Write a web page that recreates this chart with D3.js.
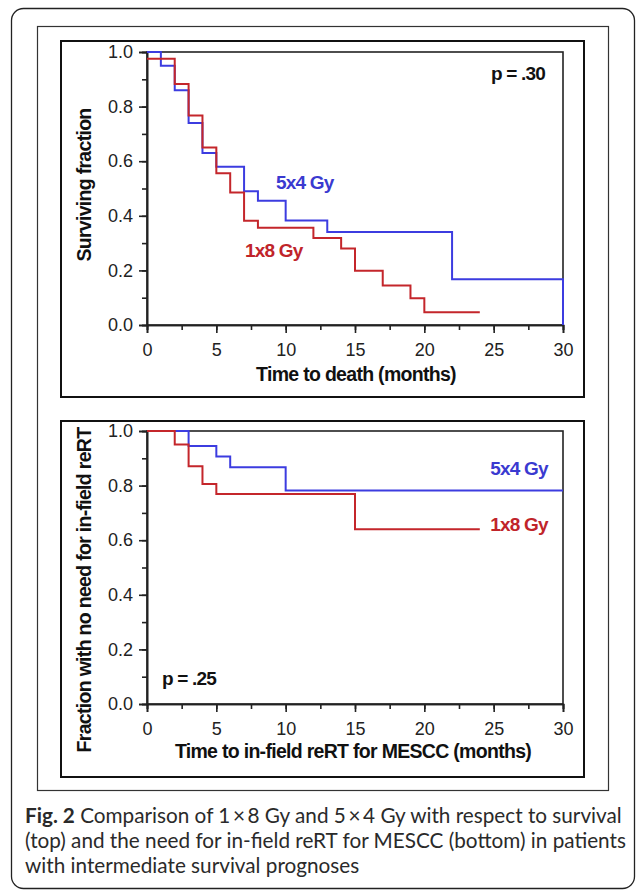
<!DOCTYPE html>
<html>
<head>
<meta charset="utf-8">
<script src="https://cdn.jsdelivr.net/npm/d3@7"></script>
<style>
  body { margin: 0; background: #fff; }
</style>
</head>
<body>
<div id="chart"></div>
<script>
// Datos
const survTime54 = [0, 1, 2, 3, 4, 5, 7, 8, 10, 13, 22, 30];
const survVal54 = [1.0, 0.95, 0.86, 0.74, 0.63, 0.58, 0.49, 0.455, 0.383, 0.341, 0.168, 0.0];
const survTime18 = [0, 2, 3, 4, 5, 6, 7, 8, 12, 14, 15, 17, 19, 20, 24];
const survVal18 = [0.975, 0.883, 0.767, 0.65, 0.556, 0.485, 0.382, 0.356, 0.319, 0.28, 0.199, 0.145, 0.098, 0.047, 0.047];

const reTime54 = [0, 3, 5, 6, 10, 30];
const reVal54 = [1.0, 0.945, 0.907, 0.867, 0.782, 0.782];
const reTime18 = [0, 2, 3, 4, 5, 15, 24];
const reVal18 = [1.0, 0.951, 0.871, 0.806, 0.769, 0.64, 0.64];

const xTicks = [0, 5, 10, 15, 20, 25, 30];
const yTicks = [0, 0.2, 0.4, 0.6, 0.8, 1.0];

const blue = "#3c3ce0";
const red = "#c4262b";
const blueText = "#3a3ad0";
const redText = "#c0242a";
const chartFont = "Liberation Sans, Arial, sans-serif";

const width = 636;
const height = 891;

const svg = d3.select("div#chart").append("svg")
  .attr("width", width)
  .attr("height", height)
  .style("font-family", chartFont);

// Marcos
svg.append("rect")
  .attr("x", 11.5).attr("y", 8.5).attr("width", 623).attr("height", 880)
  .attr("rx", 12).attr("fill", "none").attr("stroke", "#222").attr("stroke-width", 1.3);

svg.append("rect")
  .attr("x", 37.5).attr("y", 26.5).attr("width", 571).attr("height", 764)
  .attr("fill", "none").attr("stroke", "#333").attr("stroke-width", 1.2);

// Paneles
const panels = [
  {
    box: [61, 41, 584, 397], x: [147, 563], y: [325, 52],
    series: [[survTime54, survVal54, blue], [survTime18, survVal18, red]],
    xTitle: "Time to death (months)", xTitleY: 381, xTitleX: 356,
    yTitle: "Surviving fraction", yTitleX: 91, yTitleC: 185,
    labels: [
      { text: "5x4 Gy", t: 9.3, v: 0.498, color: blueText, anchor: "start" },
      { text: "1x8 Gy", t: 7.07, v: 0.249, color: redText, anchor: "start" },
      { text: "p = .30", t: 28.7, v: 0.897, color: "#111", anchor: "end" },
    ],
  },
  {
    box: [61, 421, 584, 777], x: [147, 563], y: [704, 431],
    series: [[reTime54, reVal54, blue], [reTime18, reVal18, red]],
    xTitle: "Time to in-field reRT for MESCC (months)", xTitleY: 758, xTitleX: 353,
    yTitle: "Fraction with no need for in-field reRT", yTitleX: 91, yTitleC: 590,
    labels: [
      { text: "5x4 Gy", t: 28.9, v: 0.839, color: blueText, anchor: "end" },
      { text: "1x8 Gy", t: 28.9, v: 0.634, color: redText, anchor: "end" },
      { text: "p = .25", t: 1.08, v: 0.07, color: "#111", anchor: "start" },
    ],
  },
];

panels.forEach(drawPanel);

function drawPanel(p) {
  const g = svg.append("g");

  g.append("rect")
    .attr("x", p.box[0]).attr("y", p.box[1])
    .attr("width", p.box[2] - p.box[0]).attr("height", p.box[3] - p.box[1])
    .attr("fill", "none").attr("stroke", "#111").attr("stroke-width", 2);

  const x = d3.scaleLinear().domain([0, 30]).range(p.x);
  const y = d3.scaleLinear().domain([0, 1]).range(p.y);

  // marco del área de datos
  g.append("rect")
    .attr("x", x(0)).attr("y", y(1))
    .attr("width", x(30) - x(0)).attr("height", y(0) - y(1))
    .attr("fill", "none").attr("stroke", "#222").attr("stroke-width", 1.6);

  // ticks menores y mayores
  const xAxisMinor = d3.axisBottom(x).tickValues(d3.range(0, 30.1, 2.5)).tickSize(5).tickFormat("");
  const yAxisMinor = d3.axisLeft(y).tickValues(d3.range(0, 1.01, 0.1)).tickSize(5).tickFormat("");
  const xAxis = d3.axisBottom(x).tickValues(xTicks).tickSize(8).tickPadding(10).tickFormat(d3.format("d"));
  const yAxis = d3.axisLeft(y).tickValues(yTicks).tickSize(8).tickPadding(6).tickFormat(d3.format(".1f"));

  [xAxisMinor, xAxis].forEach((ax) => {
    g.append("g").attr("transform", `translate(0, ${y(0)})`).call(ax).call(styleAxis);
  });
  [yAxisMinor, yAxis].forEach((ax) => {
    g.append("g").attr("transform", `translate(${x(0)}, 0)`).call(ax).call(styleAxis);
  });

  // curvas
  const line = d3.line()
    .x((d) => x(d[0]))
    .y((d) => y(d[1]))
    .curve(d3.curveStepAfter);

  p.series.forEach(([ts, vs, color]) => {
    g.append("path")
      .datum(ts.map((t, i) => [t, vs[i]]))
      .attr("d", line)
      .attr("fill", "none")
      .attr("stroke", color)
      .attr("stroke-width", 2);
  });

  // títulos
  g.append("text")
    .attr("x", p.xTitleX).attr("y", p.xTitleY)
    .attr("text-anchor", "middle")
    .attr("font-size", 19.5).attr("font-weight", "bold")
    .attr("letter-spacing", -0.7)
    .attr("fill", "#111")
    .text(p.xTitle);

  g.append("text")
    .attr("transform", `translate(${p.yTitleX}, ${p.yTitleC}) rotate(-90)`)
    .attr("text-anchor", "middle")
    .attr("font-size", 19.5).attr("font-weight", "bold")
    .attr("letter-spacing", -0.7)
    .attr("fill", "#111")
    .text(p.yTitle);

  p.labels.forEach((l) => {
    g.append("text")
      .attr("x", x(l.t)).attr("y", y(l.v))
      .attr("text-anchor", l.anchor)
      .attr("font-size", 19).attr("font-weight", "bold")
      .attr("letter-spacing", -0.8)
      .attr("fill", l.color)
      .text(l.text);
  });
}

function styleAxis(sel) {
  sel.attr("font-family", chartFont);
  sel.select(".domain").attr("stroke", "#222").attr("stroke-width", 1.6);
  sel.selectAll(".tick line").attr("stroke", "#222").attr("stroke-width", 1.6);
  sel.selectAll(".tick text")
    .attr("font-size", 18)
    .attr("fill", "#222");
}

// Pie de figura
const caption = svg.append("g")
  .style("font-family", "Lato, 'Open Sans', sans-serif")
  .attr("font-size", 20)
  .attr("fill", "#2a2a2a");
const capLines = [
  [["Fig. 2", "bold"], [" Comparison of 1\u2009\u00d7\u20098 Gy and 5\u2009\u00d7\u20094 Gy with respect to survival", "normal"]],
  [["(top) and the need for in-field reRT for MESCC (bottom) in patients", "normal"]],
  [["with intermediate survival prognoses", "normal"]],
];
const capTexts = capLines.map((parts, i) => {
  const t = caption.append("text").attr("x", 25).attr("y", 823 + i * 25);
  parts.forEach(([s, w]) => t.append("tspan").attr("font-weight", w).text(s));
  return t;
});
// ajustar el tamaño para que la primera línea ocupe el mismo ancho que el original
const w0 = capTexts[0].node().getComputedTextLength();
caption.attr("font-size", 20 * 597 / w0);
</script>
</body>
</html>
